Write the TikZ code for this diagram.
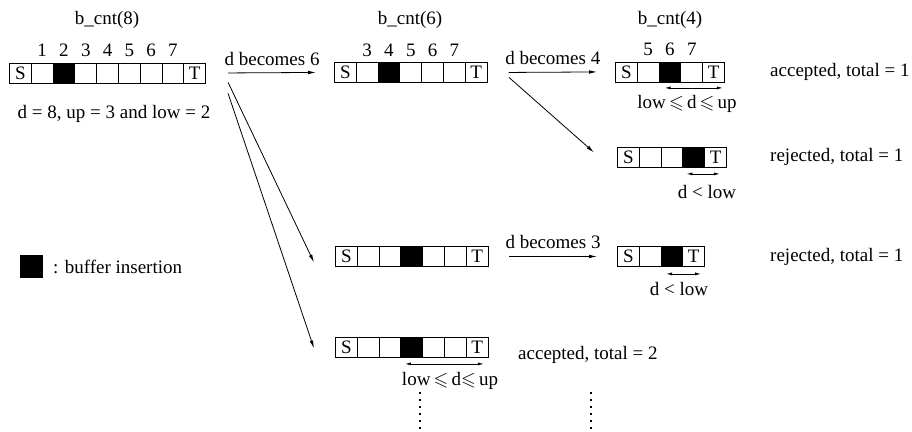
\documentclass[tikz,border=0pt]{standalone}
\usepackage{fontspec}
\setmainfont{Liberation Serif}
\usepackage{amssymb}
\usetikzlibrary{arrows.meta}
\tikzset{
  txt/.style={inner sep=0pt, font=\fontsize{19}{21}\selectfont},
  cell/.style={draw, line width=0.9pt, minimum width=21.8pt, minimum height=20pt, inner sep=0pt, anchor=north west},
  blk/.style={cell, fill=black},
  arr/.style={line width=0.8pt, -{Latex[length=8pt,width=3.6pt]}},
  darr/.style={line width=0.8pt, {Latex[length=6pt,width=3pt]}-{Latex[length=6pt,width=3pt]}},
  dots/.style={line width=1.3pt, dash pattern=on 2.2pt off 4.8pt}
}
\newcommand\bufrow[5]{%
  \foreach \k in {0,...,#4}{\node[cell] (#1-\k) at ({#2+\k*21.8},#3) {};}%
  \node[blk] (#1-b) at ({#2+#5*21.8},#3) {};%
  \node[txt] (#1-s) at (#1-0) {S};%
  \node[txt] (#1-t) at (#1-#4) {T};%
}
\begin{document}
\begin{tikzpicture}[x=1pt,y=-1pt]
\useasboundingbox (0,0) rectangle (912,431);

% arrays
\bufrow{A}{9}{62.5}{8}{2}
\bufrow{B}{334}{62}{6}{2}
\bufrow{C}{615}{61.5}{4}{2}
\bufrow{D}{617}{147}{4}{3}
\bufrow{E}{335}{246}{6}{3}
\bufrow{F}{617}{246}{3}{2}
\bufrow{G}{335}{337}{6}{3}

% titles
\node[txt] (tA) at (107,20) {b\_cnt(8)};
\node[txt] (tB) at (410,20) {b\_cnt(6)};
\node[txt] (tC) at (670,20) {b\_cnt(4)};

% index labels
\foreach \k in {1,...,7}{\node[txt] (nA\k) at ([yshift=12pt]A-\k.north) {\k};}
\foreach \k/\v in {1/3,2/4,3/5,4/6,5/7}{\node[txt] (nB\k) at ([yshift=12pt]B-\k.north) {\v};}
\foreach \k/\v in {1/5,2/6,3/7}{\node[txt] (nC\k) at ([yshift=12pt]C-\k.north) {\v};}

% transitions
\draw[arr] ([xshift=22pt]A-8.east) -- node[txt, above=7pt] (l6) {d becomes 6} ([xshift=-18pt]B-0.west);
\draw[arr] ([xshift=21pt]B-6.east) -- node[txt, above=7pt] (l4) {d becomes 4} ([xshift=-18pt]C-0.west);
\draw[arr] ([xshift=21.5pt,yshift=-5pt]B-6.east) -- ([xshift=-23pt,yshift=5pt]D-0.west);
\draw[arr] ([xshift=22pt,yshift=-9.5pt]A-8.east) -- ([xshift=-21pt,yshift=-6pt]E-0.west);
\draw[arr] ([xshift=22pt,yshift=-20.5pt]A-8.east) -- ([xshift=-21pt,yshift=-1pt]G-0.west);
\draw[arr] ([xshift=20.5pt]E-6.east) -- node[txt, above=7pt] (l3) {d becomes 3} ([xshift=-20pt]F-0.west);

% ranges
\draw[darr] ([xshift=6pt,yshift=-5.5pt]C-2.south west) -- ([xshift=-2pt,yshift=-5.5pt]C-4.south east);
\node[txt] (rC) at (687,104) {low\,$\leqslant$\,d\,$\leqslant$\,up};
\draw[darr] ([xshift=4pt,yshift=-6pt]D-3.south west) -- ([xshift=-7pt,yshift=-6pt]D-4.south east);
\node[txt] (rD) at (707,192) {d < low};
\draw[darr] ([xshift=5.5pt,yshift=-7pt]F-2.south west) -- ([xshift=-4pt,yshift=-7pt]F-3.south east);
\node[txt] (rF) at (679,289) {d < low};
\draw[darr] ([xshift=4.5pt,yshift=-6pt]G-3.south west) -- ([xshift=-4.6pt,yshift=-6pt]G-6.south east);
\node[txt] (rG) at (450,381) {low\,$\leqslant$\,d$\leqslant$\,up};

% results
\node[txt, anchor=west] (res1) at (770,72) {accepted, total = 1};
\node[txt, anchor=west] (res2) at (770,157) {rejected, total = 1};
\node[txt, anchor=west] (res3) at (770,257) {rejected, total = 1};
\node[txt, anchor=west] (res4) at (518,355) {accepted, total = 2};

% info
\node[txt] (info) at (114,114) {d = 8, up = 3 and low = 2};
\node[fill=black, minimum size=23pt, inner sep=0pt, anchor=north west] (leg) at (20,255) {};
\node[txt, anchor=west] (legt) at (53,267) {: buffer insertion};

% continuation dots
\coordinate (d1a) at (420,392); \coordinate (d1b) at (420,431);
\coordinate (d2a) at (591,392); \coordinate (d2b) at (591,431);
\draw[dots] (d1a) -- (d1b);
\draw[dots] (d2a) -- (d2b);
\end{tikzpicture}
\end{document}
